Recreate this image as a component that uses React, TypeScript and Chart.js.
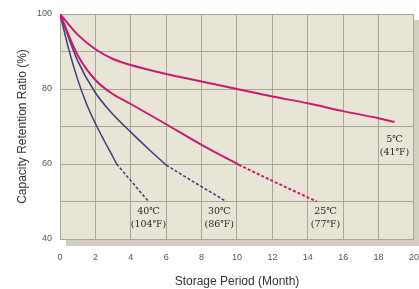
import React, { useEffect, useRef } from "react";
import { Chart, registerables } from "chart.js";

Chart.register(...registerables);

// Months / capacity retention (%)
const c5Months = [0, 1, 2, 3, 4, 6, 8, 10, 12, 14, 16, 18, 18.9];
const c5Values = [100, 94.5, 90.6, 88, 86.4, 84, 82, 80, 78, 76.2, 74.1, 72.2, 71.2];

const c25SolidMonths = [0, 1, 2, 3, 4, 6, 8, 10.1];
const c25SolidValues = [100, 89, 82.4, 78.6, 76, 70.6, 65.1, 59.8];
const c25DashMonths = [10.1, 12, 14.5];
const c25DashValues = [59.8, 55.5, 50];

const c30SolidMonths = [0, 1, 2, 3, 4, 5, 6];
const c30SolidValues = [100, 87.5, 79, 73.2, 68.5, 64, 59.7];
const c30DashMonths = [6, 7.7, 9.4];
const c30DashValues = [59.7, 54.8, 50];

const c40SolidMonths = [0, 0.5, 1, 1.5, 2, 2.5, 3, 3.2];
const c40SolidValues = [100, 90.5, 82.5, 76, 70.8, 66.2, 61.8, 60];
const c40DashMonths = [3.2, 4.1, 5];
const c40DashValues = [60, 55, 50];

const curveLabels = [
  { m: 5, v: 47.2, line1: "40℃", line2: "(104℉)" },
  { m: 9, v: 47.2, line1: "30℃", line2: "(86℉)" },
  { m: 15, v: 47.2, line1: "25℃", line2: "(77℉)" },
  { m: 18.9, v: 66.4, line1: "5℃", line2: "(41℉)" },
];

const xTicks = [0, 2, 4, 6, 8, 10, 12, 14, 16, 18, 20];
const yLabelTicks = [40, 60, 80, 100];

const MAGENTA = "#cc1a72";
const BLUE = "#3e3c7a";

function pts(ms: number[], vs: number[]) {
  return ms.map((m, i) => ({ x: m, y: vs[i] }));
}

export default function App() {
  const ref = useRef<HTMLCanvasElement | null>(null);

  useEffect(() => {
    if (!ref.current) return;
    const line = (ms: number[], vs: number[], color: string, width: number, dashed: boolean) => ({
      data: pts(ms, vs),
      borderColor: color,
      borderWidth: width,
      borderDash: dashed ? [3, 2] : [],
      pointRadius: 0,
      fill: false,
      cubicInterpolationMode: "monotone" as const,
    });

    const bgPlugin = {
      id: "plotBg",
      beforeDraw(chart: any) {
        const { ctx, chartArea: a } = chart;
        ctx.save();
        ctx.fillStyle = "#d2cec0";
        ctx.fillRect(a.left + 6, a.bottom, a.right - a.left - 6 + 5, 7);
        ctx.fillRect(a.right, a.top + 6, 5, a.bottom - a.top);
        ctx.fillStyle = "#e8e4d6";
        ctx.fillRect(a.left, a.top, a.right - a.left, a.bottom - a.top);
        ctx.restore();
      },
      afterDatasetsDraw(chart: any) {
        const { ctx } = chart;
        const xs = chart.scales.x;
        const ys = chart.scales.y;
        ctx.save();
        ctx.fillStyle = "#2a2a2a";
        ctx.textAlign = "center";
        ctx.textBaseline = "middle";
        ctx.font = "9.5px 'DejaVu Serif', serif";
        curveLabels.forEach((l) => {
          const x = xs.getPixelForValue(l.m);
          const y = ys.getPixelForValue(l.v);
          ctx.fillText(l.line1, x, y);
          ctx.fillText(l.line2, x, y + 13);
        });
        ctx.restore();
      },
    };

    const chart = new Chart(ref.current, {
      type: "line",
      data: {
        datasets: [
          line(c5Months, c5Values, MAGENTA, 2, false),
          line(c25SolidMonths, c25SolidValues, MAGENTA, 2, false),
          line(c25DashMonths, c25DashValues, MAGENTA, 2, true),
          line(c30SolidMonths, c30SolidValues, BLUE, 1.5, false),
          line(c30DashMonths, c30DashValues, BLUE, 1.5, true),
          line(c40SolidMonths, c40SolidValues, BLUE, 1.5, false),
          line(c40DashMonths, c40DashValues, BLUE, 1.5, true),
        ] as any,
      },
      options: {
        animation: false,
        responsive: false,
        maintainAspectRatio: false,
        layout: { padding: { top: 14, right: 4, left: 0, bottom: 0 } },
        plugins: { legend: { display: false }, tooltip: { enabled: false } },
        scales: {
          x: {
            type: "linear",
            min: 0,
            max: 20,
            afterBuildTicks: (s: any) => {
              s.ticks = xTicks.map((v) => ({ value: v }));
            },
            afterFit: (s: any) => {
              s.height = 50;
            },
            grid: {
              color: "#aaa696",
              lineWidth: 1,
              drawTicks: true,
              tickLength: 13,
              tickColor: "rgba(0,0,0,0)",
            },
            border: { display: false },
            ticks: {
              color: "#555",
              font: { family: "Arial, 'Liberation Sans', sans-serif", size: 9 },
              padding: 0,
              maxRotation: 0,
            },
            title: {
              display: true,
              text: "Storage Period (Month)",
              color: "#333",
              font: { family: "Arial, 'Liberation Sans', sans-serif", size: 12 },
              padding: { top: 8, bottom: 0 },
            },
          },
          y: {
            type: "linear",
            min: 40,
            max: 100,
            ticks: {
              stepSize: 10,
              color: "#555",
              font: { family: "Arial, 'Liberation Sans', sans-serif", size: 9 },
              padding: 8,
              callback: (v: any) => (yLabelTicks.includes(Number(v)) ? String(v) : ""),
            },
            afterFit: (s: any) => {
              s.width = 60;
            },
            grid: { color: "#aaa696", lineWidth: 1, drawTicks: false },
            border: { display: false },
            title: {
              display: true,
              text: "Capacity Retention Ratio (%)",
              color: "#333",
              font: { family: "Arial, 'Liberation Sans', sans-serif", size: 12 },
              padding: { top: 15, bottom: 0 },
            },
          },
        },
      },
      plugins: [bgPlugin],
    } as any);

    return () => chart.destroy();
  }, []);

  return (
    <div style={{ position: "absolute", left: 0, top: 0, width: 419, height: 289, background: "#fff" }}>
      <canvas ref={ref} width={419} height={289} style={{ width: 419, height: 289 }} />
    </div>
  );
}
